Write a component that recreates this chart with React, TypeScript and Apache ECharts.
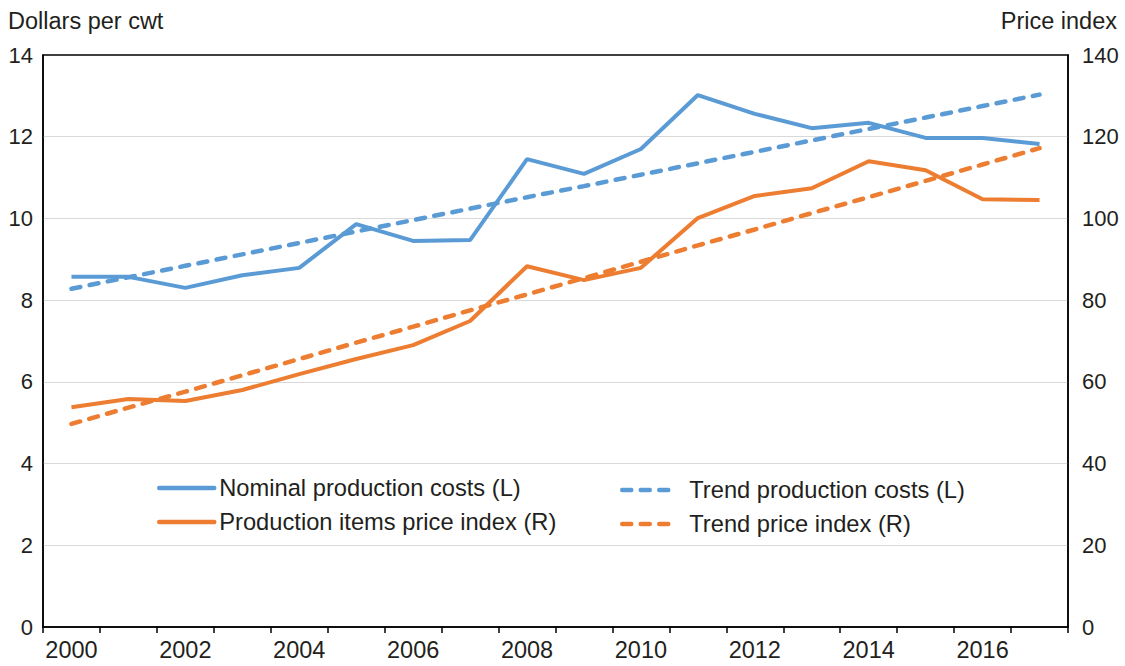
import React, { useEffect, useRef } from "react";
import * as echarts from "echarts";

const years = ["2000","2001","2002","2003","2004","2005","2006","2007","2008","2009","2010","2011","2012","2013","2014","2015","2016","2017"];
const nominalCosts = [8.57, 8.57, 8.3, 8.61, 8.79, 9.86, 9.45, 9.47, 11.45, 11.09, 11.7, 13.02, 12.56, 12.21, 12.34, 11.97, 11.97, 11.82];
const trendCosts = [8.28, 8.56, 8.84, 9.12, 9.4, 9.68, 9.96, 10.24, 10.52, 10.79, 11.07, 11.35, 11.63, 11.91, 12.19, 12.47, 12.75, 13.03];
const priceIndex = [53.8, 55.8, 55.3, 58.0, 61.9, 65.6, 69.0, 74.9, 88.3, 84.9, 87.9, 100.1, 105.5, 107.4, 114.0, 111.8, 104.7, 104.5];
const trendPrice = [49.7, 53.7, 57.6, 61.6, 65.6, 69.6, 73.5, 77.5, 81.4, 85.4, 89.4, 93.4, 97.3, 101.3, 105.2, 109.2, 113.2, 117.2];
const leftTitle = "Dollars per cwt";
const rightTitle = "Price index";
const names = ["Nominal production costs (L)", "Production items price index (R)", "Trend production costs (L)", "Trend price index (R)"];

const BLUE = "#5B9BD5";
const ORANGE = "#ED7D31";
const FONT = "'Liberation Sans', Arial, Helvetica, sans-serif";
const TXT = "#231f20";

export default function App() {
  const ref = useRef<HTMLDivElement>(null);
  useEffect(() => {
    if (!ref.current) return;
    const chart = echarts.init(ref.current, null, { renderer: "svg" });
    const legendCommon = {
      orient: "vertical",
      padding: 0,
      itemWidth: 55,
      itemHeight: 14,
      itemGap: 10,
      itemStyle: { opacity: 0 },
      lineStyle: { width: 4.5, cap: "round" },
    };
    chart.setOption({
      animation: false,
      backgroundColor: "#fff",
      textStyle: { fontFamily: FONT },
      grid: { left: 43, right: 57, top: 55, bottom: 39, show: true, borderColor: "#000", borderWidth: 1.5, backgroundColor: "transparent" },
      graphic: [
        { type: "text", left: 8, top: 9, style: { text: leftTitle, fontSize: 23.5, fontFamily: FONT, fill: TXT } },
        { type: "text", right: 8, top: 9, style: { text: rightTitle, fontSize: 23.5, fontFamily: FONT, fill: TXT } },
      ],
      legend: [
        {
          ...legendCommon,
          data: [names[0], names[1]],
          left: 157,
          top: 476,
          textStyle: { fontSize: 23.7, fontFamily: FONT, color: TXT },
        },
        {
          ...legendCommon,
          data: [names[2], names[3]],
          left: 620,
          top: 478,
          textStyle: { fontSize: 23.7, fontFamily: FONT, color: TXT, padding: [5, 0, 0, 7] },
        },
      ],
      xAxis: {
        type: "category",
        data: years,
        boundaryGap: true,
        axisLine: { lineStyle: { color: "#000", width: 1.5 } },
        axisTick: { show: true, interval: 0, length: 6, lineStyle: { color: "#000", width: 1.5 } },
        axisLabel: { interval: 1, fontSize: 23.5, color: TXT, fontFamily: FONT, margin: 11 },
      },
      yAxis: [
        {
          type: "value",
          min: 0,
          max: 14,
          interval: 2,
          axisLine: { show: true, lineStyle: { color: "#000", width: 1.5 } },
          axisTick: { show: false },
          axisLabel: { fontSize: 22, color: TXT, fontFamily: FONT, margin: 10 },
          splitLine: { show: true, showMinLine: false, showMaxLine: false, lineStyle: { color: "#d9d9d9", width: 1 } },
        },
        {
          type: "value",
          min: 0,
          max: 140,
          interval: 20,
          position: "right",
          axisLine: { show: true, lineStyle: { color: "#000", width: 1.5 } },
          axisTick: { show: false },
          axisLabel: { fontSize: 22, color: TXT, fontFamily: FONT, margin: 14 },
          splitLine: { show: false },
        },
      ],
      series: [
        { name: names[0], type: "line", yAxisIndex: 0, data: nominalCosts, symbol: "none", lineStyle: { color: BLUE, width: 4 }, itemStyle: { color: BLUE }, z: 4 },
        { name: names[1], type: "line", yAxisIndex: 1, data: priceIndex, symbol: "none", lineStyle: { color: ORANGE, width: 4 }, itemStyle: { color: ORANGE }, z: 4 },
        { name: names[2], type: "line", yAxisIndex: 0, data: trendCosts, symbol: "none", lineStyle: { color: BLUE, width: 4.5, type: [9, 9.5], cap: "round" }, itemStyle: { color: BLUE }, z: 3 },
        { name: names[3], type: "line", yAxisIndex: 1, data: trendPrice, symbol: "none", lineStyle: { color: ORANGE, width: 4.5, type: [9, 9.5], cap: "round" }, itemStyle: { color: ORANGE }, z: 3 },
      ],
    });
    return () => chart.dispose();
  }, []);
  return <div ref={ref} style={{ width: 1125, height: 666, position: "absolute", left: 0, top: 0 }} />;
}
